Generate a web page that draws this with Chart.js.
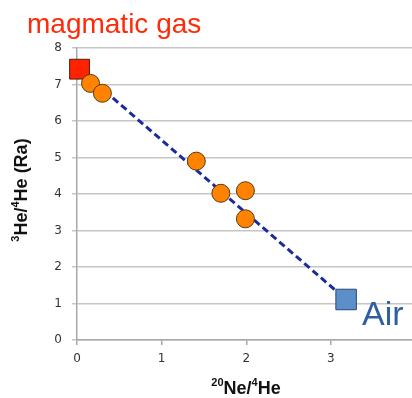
<!DOCTYPE html>
<html>
<head>
<meta charset="utf-8">
<script src="https://cdn.jsdelivr.net/npm/chart.js@4/dist/chart.umd.min.js"></script>
<style>
  html, body { margin: 0; padding: 0; background: #fff; overflow: hidden; }
  #wrap { position: relative; width: 431px; height: 398px; }
</style>
</head>
<body>
<div id="wrap"><canvas id="c" width="431" height="398"></canvas></div>
<script>
// ── Data ──────────────────────────────────────────────────────────────────
const xTicks = [0, 1, 2, 3, 4];
const yTicks = [0, 1, 2, 3, 4, 5, 6, 7, 8];

const sampleX = [0.16, 0.30, 1.41, 1.70, 1.99, 1.99];
const sampleY = [7.03, 6.76, 4.90, 4.02, 4.09, 3.32];

const magmaX = [0.03];
const magmaY = [7.42];

const airX = [3.18];
const airY = [1.11];

// mixing line between the two end-members
const mixX = [magmaX[0], airX[0]];
const mixY = [magmaY[0], airY[0]];

const zip = (xs, ys) => xs.map((x, i) => ({ x, y: ys[i] }));

const TICK = '#333';
const GRID = '#c6c6c6';
const AXIS = '#a8a8a8';

// ── Text with superscripts, drawn on the canvas ───────────────────────────
function richWidth(ctx, parts, size) {
  let w = 0;
  parts.forEach(p => {
    ctx.font = `bold ${p.sup ? Math.round(size * 0.62) : size}px "Liberation Sans", Arial, sans-serif`;
    w += ctx.measureText(p.t).width;
  });
  return w;
}

function drawRich(ctx, parts, cx, baseline, size) {
  let x = cx - richWidth(ctx, parts, size) / 2;
  parts.forEach(p => {
    ctx.font = `bold ${p.sup ? Math.round(size * 0.62) : size}px "Liberation Sans", Arial, sans-serif`;
    ctx.fillText(p.t, x, p.sup ? baseline - size * 0.42 : baseline);
    x += ctx.measureText(p.t).width;
  });
}

const labelsPlugin = {
  id: 'labels',
  afterDraw(chart) {
    const ctx = chart.ctx;
    ctx.save();
    ctx.textAlign = 'left';
    ctx.textBaseline = 'alphabetic';

    ctx.fillStyle = '#ff2a0a';
    ctx.font = '28px "Liberation Sans", Arial, sans-serif';
    ctx.fillText('magmatic gas', 27, 33);

    ctx.fillStyle = '#2f5f9f';
    ctx.font = '34px "Liberation Sans", Arial, sans-serif';
    ctx.fillText('Air', 362, 325);

    ctx.fillStyle = '#111';
    drawRich(ctx, [{ t: '20', sup: true }, { t: 'Ne/' }, { t: '4', sup: true }, { t: 'He' }], 246, 394, 18);

    ctx.translate(27, 190);
    ctx.rotate(-Math.PI / 2);
    drawRich(ctx, [{ t: '3', sup: true }, { t: 'He/' }, { t: '4', sup: true }, { t: 'He (Ra)' }], 0, 0, 18);
    ctx.restore();
  },
};

new Chart(document.getElementById('c'), {
  type: 'scatter',
  data: {
    datasets: [
      {
        data: zip(sampleX, sampleY),
        pointRadius: 9,
        pointHoverRadius: 9,
        backgroundColor: '#ff8200',
        borderColor: '#5a3a12',
        borderWidth: 1,
        clip: false,
      },
      {
        data: zip(magmaX, magmaY),
        pointStyle: 'rect',
        pointRadius: 14,
        pointHoverRadius: 14,
        backgroundColor: '#ff2200',
        borderColor: '#5a1a0a',
        borderWidth: 1,
        clip: false,
      },
      {
        data: zip(airX, airY),
        pointStyle: 'rect',
        pointRadius: 14.5,
        pointHoverRadius: 14.5,
        backgroundColor: '#5b8fca',
        borderColor: '#2a4a6e',
        borderWidth: 1,
        clip: false,
      },
      {
        data: zip(mixX, mixY),
        showLine: true,
        pointRadius: 0,
        borderColor: '#1a2c9c',
        borderWidth: 3,
        borderDash: [7, 4],
      },
    ],
  },
  options: {
    responsive: false,
    animation: false,
    layout: { padding: { top: 48, right: 8, left: 0, bottom: 0 } },
    plugins: {
      legend: { display: false },
      tooltip: { enabled: false },
    },
    scales: {
      x: {
        type: 'linear',
        min: 0,
        max: 4,
        afterFit: s => { s.height = 58; },
        afterBuildTicks: s => { s.ticks = xTicks.map(v => ({ value: v })); },
        grid: { drawOnChartArea: false, drawTicks: true, tickLength: 5, color: AXIS, lineWidth: 1.5 },
        border: { color: AXIS, width: 1.5 },
        ticks: { color: TICK, padding: 7, font: { size: 12, family: '"DejaVu Sans", sans-serif' } },
      },
      y: {
        type: 'linear',
        min: 0,
        max: 8,
        afterFit: s => { s.width = 77; },
        afterBuildTicks: s => { s.ticks = yTicks.map(v => ({ value: v })); },
        grid: { color: GRID, lineWidth: 1.5, tickLength: 5 },
        border: { color: AXIS, width: 1.5 },
        ticks: { color: TICK, padding: 10, font: { size: 12, family: '"DejaVu Sans", sans-serif' } },
      },
    },
  },
  plugins: [labelsPlugin],
});
</script>
</body>
</html>
